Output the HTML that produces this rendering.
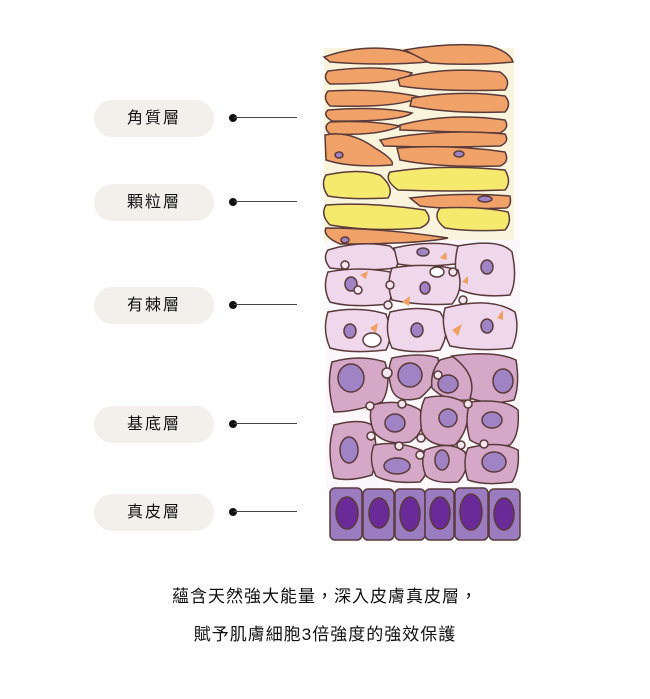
<!DOCTYPE html>
<html><head><meta charset="utf-8"><style>
body{margin:0;background:#fff;width:650px;height:699px;overflow:hidden;position:relative;font-family:"Liberation Sans","Noto Sans CJK TC",sans-serif}
.p{position:absolute;left:94px;width:120px;height:37px;border-radius:19px;background:#f3f0ec;font-size:16px;color:#111;text-align:center;line-height:37px;letter-spacing:2px}
.l{position:absolute;left:234px;width:63px;height:1px;background:#444}
.d{position:absolute;left:229px;width:8px;height:8px;border-radius:50%;background:#111}
.t{position:absolute;left:0;width:650px;text-align:center;font-size:17px;color:#111;letter-spacing:1px}
</style></head><body>
<div class="p" style="top:100px">角質層</div><div class="d" style="top:114px"></div><div class="l" style="top:117px"></div>
<div class="p" style="top:184px">顆粒層</div><div class="d" style="top:198px"></div><div class="l" style="top:201px"></div>
<div class="p" style="top:287px">有棘層</div><div class="d" style="top:301px"></div><div class="l" style="top:304px"></div>
<div class="p" style="top:406px">基底層</div><div class="d" style="top:420px"></div><div class="l" style="top:423px"></div>
<div class="p" style="top:494px">真皮層</div><div class="d" style="top:508px"></div><div class="l" style="top:511px"></div>
<svg style="position:absolute;left:0;top:0" width="650" height="699">
<g stroke="#5a3a3a" stroke-width="1.5">
<rect x="324" y="48" width="190" height="195" fill="#fbf4dc" stroke="none"/>
<rect x="326" y="240" width="194" height="250" fill="#fbf7fa" stroke="none"/>
<g fill="#f0a268">
<path d="M324 57 Q360 44 400 50 Q420 55 428 62 Q380 66 330 62Z"/>
<path d="M405 50 Q450 42 490 46 Q510 52 513 62 Q470 66 430 63Z"/>
<path d="M328 71 Q380 64 412 73 Q405 84 330 84 Q322 78 328 71Z"/>
<path d="M398 79 Q440 66 500 72 Q512 80 505 90 Q440 92 400 86Z"/>
<path d="M328 91 Q380 88 420 97 Q400 108 330 106 Q322 98 328 91Z"/>
<path d="M412 98 Q460 90 505 96 Q512 104 505 112 Q450 114 410 106Z"/>
<path d="M328 110 Q380 106 412 113 Q400 122 332 121 Q322 115 328 110Z"/>
<path d="M330 122 Q370 120 400 126 Q380 136 330 134 Q322 127 330 122Z"/>
<path d="M400 125 Q450 112 505 120 Q510 128 500 133 Q450 132 400 130Z"/>
<path d="M380 140 Q440 128 505 134 Q510 142 500 146 Q440 148 384 146Z"/>
<path d="M325 135 Q350 130 375 148 Q395 160 392 165 Q350 168 326 160Z"/>
<path d="M397 148 Q450 144 505 152 Q510 162 500 166 Q440 168 400 160Z"/>
<path d="M410 198 Q460 192 510 196 Q512 206 506 208 Q450 210 420 206Z"/>
<path d="M326 228 Q380 228 448 238 Q420 244 340 244 Q322 236 326 228Z"/>
</g>
<g fill="#f5ea6e">
<path d="M326 175 Q360 168 380 175 Q395 188 388 198 Q350 200 328 196 Q320 185 326 175Z"/>
<path d="M390 172 Q440 164 505 170 Q512 182 505 190 Q450 192 398 190 Q384 180 390 172Z"/>
<path d="M326 205 Q370 202 425 210 Q435 222 420 228 Q370 232 330 225 Q320 215 326 205Z"/>
<path d="M440 208 Q480 206 508 212 Q512 222 505 230 Q470 232 445 228 Q432 218 440 208Z"/>
</g>
<g fill="#efd7ec">
<path d="M328 250 Q360 240 390 246 Q402 256 396 268 Q360 272 330 268 Q322 258 328 250Z"/>
<path d="M394 248 Q430 240 458 246 Q462 258 455 264 Q420 268 398 264Z"/>
<path d="M458 246 Q500 238 512 252 Q518 280 510 295 Q480 298 460 290 Q452 268 458 246Z"/>
<path d="M328 272 Q360 266 390 272 Q396 290 388 304 Q350 308 330 302 Q322 288 328 272Z"/>
<path d="M392 268 Q430 262 458 270 Q464 290 452 304 Q420 306 392 300 Q386 285 392 268Z"/>
<path d="M328 312 Q360 306 386 314 Q394 335 386 350 Q350 354 330 348 Q322 330 328 312Z"/>
<path d="M390 312 Q420 305 440 312 Q452 330 440 350 Q410 354 392 348 Q384 330 390 312Z"/>
<path d="M445 308 Q490 296 515 312 Q520 330 512 348 Q480 352 450 346 Q440 326 445 308Z"/>
</g>
<g fill="#d6a8c8">
<path d="M332 362 Q360 354 385 362 Q392 385 382 402 Q355 412 334 412 Q326 385 332 362Z"/>
<path d="M392 358 Q420 352 438 358 Q442 380 420 398 Q398 404 392 390 Q386 372 392 358Z"/>
<path d="M440 360 Q470 350 490 362 Q488 385 470 400 Q445 402 432 388 Q430 372 440 360Z"/>
<path d="M452 356 Q495 350 516 360 Q520 385 514 400 Q490 406 470 398 Q478 375 452 356Z"/>
<path d="M334 425 Q360 418 372 425 Q380 450 372 475 Q350 482 334 478 Q326 450 334 425Z"/>
<path d="M372 405 Q400 398 420 410 Q428 430 410 442 Q385 446 374 432 Q368 418 372 405Z"/>
<path d="M425 398 Q450 392 468 405 Q470 430 455 445 Q430 448 422 432 Q418 412 425 398Z"/>
<path d="M470 402 Q505 398 518 410 Q520 435 510 445 Q485 450 470 440 Q464 420 470 402Z"/>
<path d="M374 445 Q400 440 425 452 Q432 470 420 482 Q390 484 376 476 Q368 460 374 445Z"/>
<path d="M425 450 Q450 440 465 452 Q470 470 458 482 Q435 484 426 476 Q420 462 425 450Z"/>
<path d="M468 448 Q500 440 518 450 Q520 470 512 482 Q485 486 468 480 Q462 462 468 448Z"/>
</g>
<g fill="#9f83c4">
<ellipse cx="351" cy="378" rx="13" ry="14"/><ellipse cx="410" cy="375" rx="12" ry="12"/><ellipse cx="448" cy="384" rx="10" ry="9"/><ellipse cx="503" cy="381" rx="10" ry="12"/>
<ellipse cx="349" cy="450" rx="9" ry="13"/><ellipse cx="395" cy="423" rx="10" ry="9"/><ellipse cx="448" cy="418" rx="9" ry="9"/><ellipse cx="492" cy="420" rx="10" ry="8"/>
<ellipse cx="397" cy="466" rx="13" ry="8"/><ellipse cx="442" cy="460" rx="7" ry="10"/><ellipse cx="494" cy="462" rx="12" ry="10"/>
<ellipse cx="351" cy="284" rx="6" ry="7"/><ellipse cx="487" cy="267" rx="6" ry="7"/><ellipse cx="425" cy="288" rx="5" ry="6"/><ellipse cx="417" cy="330" rx="6" ry="7"/><ellipse cx="487" cy="326" rx="6" ry="7"/><ellipse cx="350" cy="331" rx="6" ry="7"/><ellipse cx="423" cy="252" rx="6" ry="4"/>
<ellipse cx="339" cy="155" rx="4" ry="3"/><ellipse cx="459" cy="154" rx="5" ry="3"/><ellipse cx="485" cy="199" rx="7" ry="3"/><ellipse cx="345" cy="240" rx="4" ry="3"/>
</g>
<g fill="#f4e6ee"><circle cx="358" cy="290" r="4"/><circle cx="390" cy="285" r="4"/><circle cx="463" cy="300" r="4"/><circle cx="388" cy="305" r="4"/><circle cx="345" cy="265" r="4"/><circle cx="453" cy="272" r="4"/><circle cx="387" cy="373" r="5"/><circle cx="370" cy="406" r="4"/><circle cx="402" cy="404" r="4"/><circle cx="438" cy="375" r="4"/><circle cx="468" cy="404" r="4"/><circle cx="371" cy="436" r="4"/><circle cx="421" cy="438" r="4"/><circle cx="399" cy="446" r="4"/><circle cx="461" cy="445" r="4"/><circle cx="484" cy="444" r="4"/><circle cx="420" cy="455" r="4"/></g>
<g fill="#fff"><ellipse cx="372" cy="340" rx="9" ry="7"/><ellipse cx="437" cy="272" rx="7" ry="5"/></g>
<g fill="#9b7cc0">
<rect x="330" y="488" width="32" height="52" rx="5"/><rect x="363" y="489" width="31" height="51" rx="5"/><rect x="395" y="489" width="30" height="51" rx="5"/><rect x="425" y="489" width="29" height="51" rx="5"/><rect x="455" y="488" width="33" height="52" rx="5"/><rect x="489" y="489" width="31" height="51" rx="5"/>
</g>
<g fill="#6a2a98"><ellipse cx="347" cy="513" rx="11" ry="16"/><ellipse cx="379" cy="513" rx="10" ry="15"/><ellipse cx="410" cy="514" rx="10" ry="17"/><ellipse cx="440" cy="513" rx="10" ry="16"/><ellipse cx="471" cy="512" rx="11" ry="18"/><ellipse cx="504" cy="514" rx="10" ry="16"/></g>
</g>
<g fill="#f0a060"><path d="M360 275 l8 -4 l-2 8z"/><path d="M370 328 l8 -5 l-2 10z"/><path d="M452 330 l10 -6 l-4 12z"/><path d="M497 318 l6 -8 l0 10z"/><path d="M402 302 l8 -6 l-1 10z"/><path d="M462 282 l6 -6 l0 8z"/><path d="M440 258 l6 -6 l1 8z"/></g>
</svg>
<div class="t" style="top:582px">蘊含天然強大能量，深入皮膚真皮層，</div>
<div class="t" style="top:620px">賦予肌膚細胞3倍強度的強效保護</div>
</body></html>
